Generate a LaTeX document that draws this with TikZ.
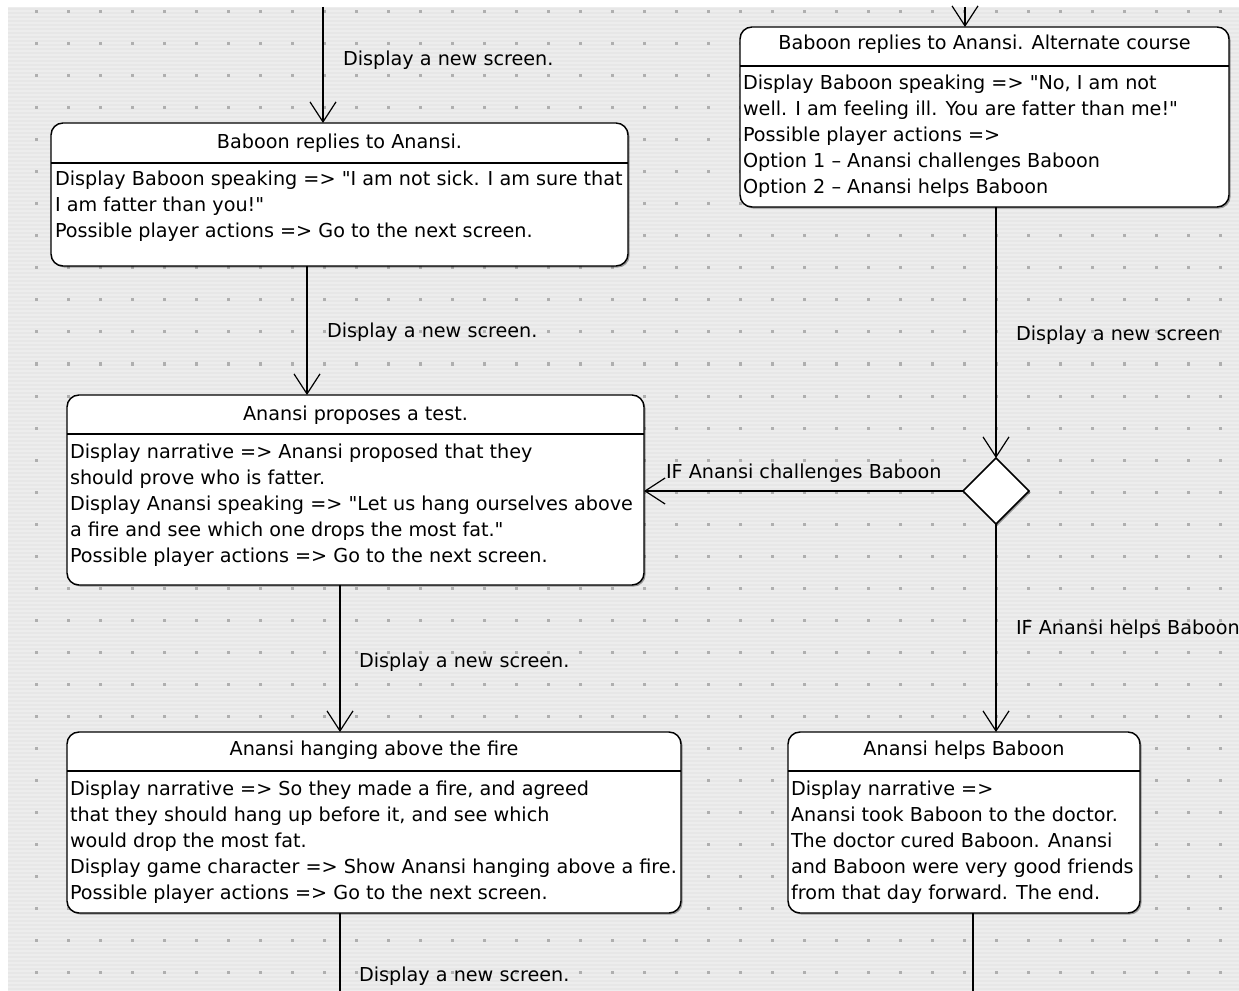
\documentclass[tikz,border=0pt]{standalone}
\usepackage{fontspec}
\setmainfont{DejaVu Sans}[Ligatures=TeXOff]
\usetikzlibrary{arrows.meta,shapes.geometric,fit,shadows}
\definecolor{bg}{HTML}{EDEDED}
\definecolor{stripe}{HTML}{E7E7E7}
\definecolor{dotc}{HTML}{AFAFAF}
\newcommand{\dq}{\symbol{34}}
\tikzset{
  every node/.style={inner sep=0pt, outer sep=0pt},
  box/.style={draw=black, line width=1.1pt, fill=white, rounded corners=9pt,
    drop shadow={shadow xshift=1.2pt, shadow yshift=-1.2pt, opacity=0.35, fill=black}},
  dia/.style={diamond, draw=black, line width=1.1pt, fill=white, aspect=1,
    minimum width=49.5pt, minimum height=49.5pt,
    drop shadow={shadow xshift=1.2pt, shadow yshift=-1.2pt, opacity=0.35, fill=black}},
  sepline/.style={draw=black, line width=1pt},
  txt/.style={font=\fontsize{14.4pt}{19.5pt}\selectfont, text=black},
  hdr/.style={txt, anchor=base},
  body/.style={txt, anchor=base west},
  lbl/.style={txt, anchor=base west},
  conn/.style={draw=black, line width=0.9pt},
  arr/.style={conn, -{Straight Barb[length=15pt, width=19.5pt, line width=0.9pt]}},
}
\begin{document}
\begin{tikzpicture}[x=0.75pt, y=-0.75pt]
% background
\fill[white] (0,0) rectangle (1239,991);
\useasboundingbox (0,0) rectangle (1239,991);
\fill[bg] (8,7) rectangle (1239,991);
\foreach \y in {9,13,...,989} \draw[stripe, line width=1.3pt] (8,\y) -- (1239,\y);
\foreach \x in {36,68,...,1236} \foreach \y in {12,44,...,988}
  \fill[dotc] (\x-1.5,\y-1.5) rectangle (\x+1.5,\y+1.5);

% boxes
\node[box, fit={(51,123) (628,266)}] (b1) {};
\node[box, fit={(740,27) (1229,207)}] (b2) {};
\node[box, fit={(67,395) (644,585)}] (b3) {};
\node[box, fit={(67,732) (681,913)}] (b4) {};
\node[box, fit={(788,732) (1140,913)}] (b5) {};
\node[dia] (d) at (996,491) {};

% separators
\draw[sepline] (b1.west |- 0,163) -- (b1.east |- 0,163);
\draw[sepline] (b2.west |- 0,66) -- (b2.east |- 0,66);
\draw[sepline] (b3.west |- 0,434) -- (b3.east |- 0,434);
\draw[sepline] (b4.west |- 0,771) -- (b4.east |- 0,771);
\draw[sepline] (b5.west |- 0,771) -- (b5.east |- 0,771);

% headers
\node[hdr] (h1) at (339.5,149) {Baboon replies to Anansi.};
\node[hdr] (h2) at (984.5,50) {Baboon replies to Anansi. Alternate course};
\node[hdr] (h3) at (355.5,420) {Anansi proposes a test.};
\node[hdr] (h4) at (374,755) {Anansi hanging above the fire};
\node[hdr] (h5) at (964,755) {Anansi helps Baboon};

% bodies
\foreach \t [count=\i from 0] in {
  {Display Baboon speaking => \dq I am not sick. I am sure that},
  {I am fatter than you!\dq},
  {Possible player actions => Go to the next screen.}}
  \node[body] (b1t\i) at (55,186+26*\i) {\t};
\foreach \t [count=\i from 0] in {
  {Display Baboon speaking => \dq No, I am not},
  {well. I am feeling ill. You are fatter than me!\dq},
  {Possible player actions =>},
  {Option 1 – Anansi challenges Baboon},
  {Option 2 – Anansi helps Baboon}}
  \node[body] (b2t\i) at (743,90+26*\i) {\t};
\foreach \t [count=\i from 0] in {
  {Display narrative => Anansi proposed that they},
  {should prove who is fatter.},
  {Display Anansi speaking => \dq Let us hang ourselves above},
  {a fire and see which one drops the most fat.\dq},
  {Possible player actions => Go to the next screen.}}
  \node[body] (b3t\i) at (70,458+26*\i) {\t};
\foreach \t [count=\i from 0] in {
  {Display narrative => So they made a fire, and agreed},
  {that they should hang up before it, and see which},
  {would drop the most fat.},
  {Display game character => Show Anansi hanging above a fire.},
  {Possible player actions => Go to the next screen.}}
  \node[body] (b4t\i) at (70,795+26*\i) {\t};
\foreach \t [count=\i from 0] in {
  {Display narrative =>},
  {Anansi took Baboon to the doctor.},
  {The doctor cured Baboon. Anansi},
  {and Baboon were very good friends},
  {from that day forward. The end.}}
  \node[body] (b5t\i) at (791,795+26*\i) {\t};

% connector coordinates
\coordinate (t1) at (323,7);
\coordinate (t2) at (965,7);
\coordinate (x307) at (307,0);
\coordinate (x996) at (996,0);
\coordinate (x340) at (340,0);
\coordinate (e4) at (340,991);
\coordinate (e5) at (973,991);

% connectors
\draw[arr] (t1) -- (t1 |- b1.north);
\draw[arr] (t2) -- (t2 |- b2.north);
\draw[arr] (b1.south -| x307) -- (b3.north -| x307);
\draw[arr] (b2.south -| x996) -- (d.north);
\draw[arr] (d.west) -- (d.west -| b3.east);
\draw[arr] (d.south) -- (d.south |- b5.north);
\draw[arr] (b3.south -| x340) -- (b4.north -| x340);
\draw[conn] (b4.south -| x340) -- (e4);
\draw[conn] (b5.south -| e5) -- (e5);

% labels
\node[lbl] (l1) at (343,66) {Display a new screen.};
\node[lbl] (l2) at (327,338) {Display a new screen.};
\node[lbl] (l3) at (1016,340) {Display a new screen};
\node[lbl] (l4) at (666,478) {IF Anansi challenges Baboon};
\node[lbl] (l5) at (1016,634) {IF Anansi helps Baboon};
\node[lbl] (l6) at (359,667) {Display a new screen.};
\node[lbl] (l7) at (359,981) {Display a new screen.};
\end{tikzpicture}
\end{document}
